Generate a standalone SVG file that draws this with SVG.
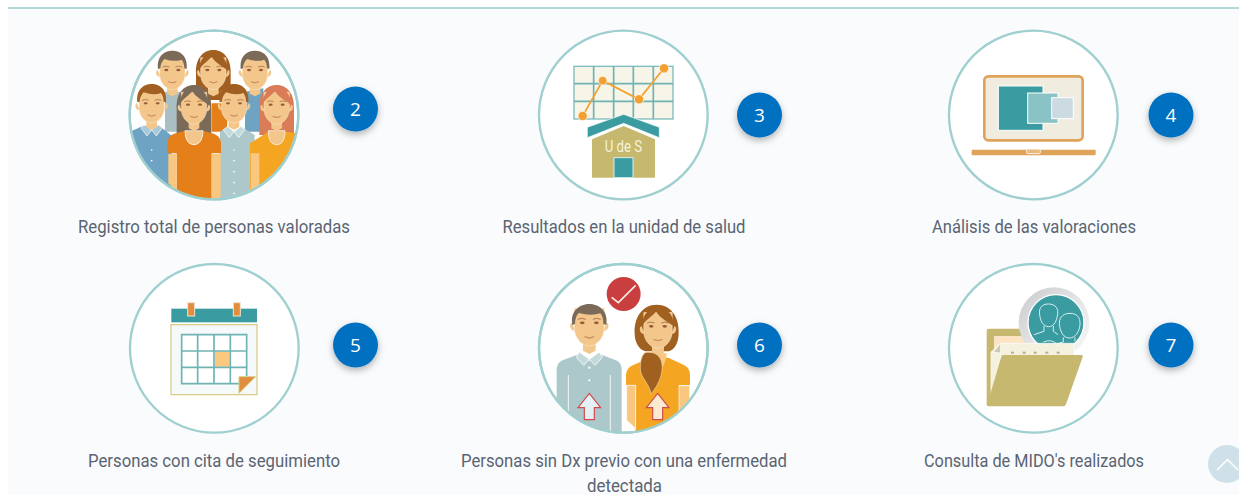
<svg xmlns="http://www.w3.org/2000/svg" xmlns:xlink="http://www.w3.org/1999/xlink" width="1239" height="495" viewBox="0 0 1239 495">
<style>
.ring{fill:#fff;stroke:#9fcfcf;stroke-width:7}
.lbl{font-family:"Roboto","Liberation Sans",sans-serif;font-size:18px;fill:#5b6472;text-anchor:middle}
.num{font-family:"Open Sans","Noto Sans",sans-serif;font-size:19px;fill:#fff;text-anchor:middle}
.badge{fill:#0070c0;filter:url(#sh)}
.skin{fill:#f3c68c}
.eye{fill:#9a5b38}
.grid{fill:none;stroke:#6fb3b3;stroke-width:5}
</style>
<defs>
<filter id="sh" x="-40%" y="-40%" width="180%" height="180%"><feDropShadow dx="0" dy="3" stdDeviation="3.5" flood-color="#000" flood-opacity=".3"/></filter>
<clipPath id="cp1"><circle cx="312" cy="285" r="251"/></clipPath>
<clipPath id="cp6"><circle cx="280" cy="265" r="252"/></clipPath>
<clipPath id="cpm"><circle cx="348" cy="185" r="82"/></clipPath>
<linearGradient id="lens" x1="0" y1="0" x2="1" y2="1"><stop offset="0" stop-color="#c9cacd"/><stop offset=".6" stop-color="#e8e9ea"/><stop offset="1" stop-color="#f8f8f8"/></linearGradient>
<g id="face">
<path class="skin" d="M-44-8c-7 0-7 18 4 20l4 0zM44-8c7 0 7 18-4 20l-4 0z"/>
<path class="skin" d="M-16 35h32v28l-16 8-16-8z"/>
<path class="skin" stroke="#fdecd4" stroke-width="1.500" d="M-38-45h76v50c0 28-22 46-38 46s-38-18-38-46z"/>
<ellipse class="eye" cx="-18" cy="-8" rx="6" ry="3.500"/><ellipse class="eye" cx="18" cy="-8" rx="6" ry="3.500"/>
<path d="M-29-17q10-5 20 0M9-17q10-5 20 0" fill="none" stroke="#a9754a" stroke-width="2.500"/>
<path d="M-12 27q12 6 24 0q-12 8-24 0z" fill="#c98a5a" stroke="#c98a5a" stroke-width="2"/>
</g>
<path id="mhair" d="M-43-5c-4-40 20-55 43-55s47 15 43 55l-7-2c0-12-3-20-8-26q-22 8-52-2c-7 7-12 18-12 28z"/>
<path id="whair" d="M0-70c34 0 54 30 52 70v80h-104v-80c-2-40 18-70 52-70z"/>
<path id="fringe" d="M-42-8C-36-25-15-35-5-48C5-30 25-22 42-8C44-35 25-60 0-60S-44-35-42-8z"/>
</defs>
<rect width="1239" height="495" fill="#fff"/>
<rect x="8" y="8" width="1231" height="487" fill="#f9fbfd"/>
<rect x="8" y="7" width="1231" height="2" fill="#b5d9d9"/>

<g id="connectors"/>

<g id="node-2">
<g transform="translate(110 20) scale(.3333)">
<circle class="ring" cx="312" cy="285" r="253"/>
<g clip-path="url(#cp1)">
<use href="#whair" x="310" y="160" fill="#a15f22"/>
<path d="M305 250h50l-5 85h-45z" fill="#e57f1a"/>
<path d="M165 215h55v120h-55z" fill="#a9bfc3"/>
<path d="M405 215l55-10v130h-55z" fill="#6fa3c4"/>
<use href="#face" x="187" y="158"/><use href="#mhair" x="187" y="152" fill="#7c6a58"/>
<use href="#face" x="435" y="158"/><use href="#mhair" x="435" y="152" fill="#7c6a58"/>
<use href="#face" x="310" y="158"/><use href="#fringe" x="310" y="158" fill="#a15f22"/>
<use href="#whair" x="500" y="265" fill="#d97c58"/>
<use href="#whair" x="252" y="265" fill="#7c6a58"/>
<path d="M60 335l45-20 20 15 20-15 40 32v200H60z" fill="#6fa3c4"/>
<path d="M105 315l20 15-14 18-18-24zM145 315l-20 15 14 18 18-24z" fill="#a9c8d8" stroke="#fff" stroke-width="2"/>
<use href="#face" x="125" y="258"/><use href="#mhair" x="125" y="252" fill="#a15f22"/>
<path d="M330 335l22-15 20 15 22-15 40 25v200H330z" fill="#adc8ca"/>
<path d="M352 320l20 15-14 18-18-24zM392 320l-20 15 14 18 18-24z" fill="#c3dadb" stroke="#fff" stroke-width="2"/>
<path d="M420 370l55-35h55l30 5v170H420z" fill="#f4a522"/>
<path d="M475 332c0 30 10 42 25 42s25-12 25-42z" fill="#f3c68c" stroke="#fff" stroke-width="2"/>
<path d="M422 400h26v105l-26 20z" fill="#f9c77f"/>
<use href="#face" x="500" y="262"/><use href="#fringe" x="500" y="262" fill="#d97c58"/>
<use href="#face" x="372" y="258"/><use href="#mhair" x="372" y="252" fill="#a15f22"/>
<path d="M172 370q2-25 25-30l28-8c0 28 12 42 27 42s27-14 27-42l28 8q24 6 26 30v30h-28v135H200V400h-28z" fill="#e57f1a"/>
<path d="M225 332c0 28 12 42 27 42s27-14 27-42z" fill="#f3c68c" stroke="#fff" stroke-width="2"/>
<path d="M175 402h25v108l-25-20zM305 402h27v130l-12 8h-15z" fill="#f9c77f"/>
<use href="#face" x="252" y="262"/><use href="#fringe" x="252" y="262" fill="#7c6a58"/>
<g fill="#fff"><circle cx="125" cy="390" r="2.500"/><circle cx="125" cy="422" r="2.500"/><circle cx="372" cy="390" r="2.500"/><circle cx="372" cy="422" r="2.500"/><circle cx="372" cy="455" r="2.500"/><circle cx="372" cy="488" r="2.500"/><circle cx="372" cy="520" r="2.500"/></g>
</g>
<circle cx="312" cy="285" r="253" fill="none" stroke="#9fcfcf" stroke-width="7"/>
</g>
<circle class="badge" cx="355.500" cy="109" r="22.500"/>
<text class="num" x="355.500" y="116">2</text>
<text class="lbl" x="214" y="233" textLength="272" lengthAdjust="spacingAndGlyphs">Registro total de personas valoradas</text>
</g>

<g id="node-3">
<g transform="translate(530 20) scale(.3333)">
<circle class="ring" cx="280" cy="285" r="253"/>
<rect x="132" y="139" width="297" height="158" fill="#f6f5e8" stroke="#7fbcbc" stroke-width="4"/>
<path class="grid" d="M191 139v158M251 139v158M310 139v158M370 139v158M132 191h297M132 244h297"/>
<path d="M158 288L218 182L327 238L402 145" fill="none" stroke="#f4a030" stroke-width="5"/>
<g fill="#f4a030" stroke="#fff" stroke-width="2"><circle cx="158" cy="288" r="14"/><circle cx="218" cy="182" r="13"/><circle cx="327" cy="238" r="14"/><circle cx="402" cy="145" r="14"/></g>
<path d="M172 322L281 283L388 322V353L281 310L172 353z" fill="#3a9ba0" stroke="#fff" stroke-width="2"/>
<path d="M186 358L281 318L375 358V473H186z" fill="#c6b86e"/>
<text x="280" y="397" font-family="Roboto,'Liberation Sans',sans-serif" font-size="52" fill="#f6f3dc" text-anchor="middle" textLength="112" lengthAdjust="spacingAndGlyphs">U de S</text>
<rect x="252" y="413" width="57" height="60" fill="#3a9ba0" stroke="#dcecec" stroke-width="3"/>
</g>
<circle class="badge" cx="759.500" cy="115" r="22.500"/>
<text class="num" x="759.500" y="122">3</text>
<text class="lbl" x="624" y="233" textLength="243" lengthAdjust="spacingAndGlyphs">Resultados en la unidad de salud</text>
</g>

<g id="node-4">
<g transform="translate(940 20) scale(.3333)">
<circle class="ring" cx="280" cy="285" r="253"/>
<rect x="133" y="169" width="295" height="192" rx="12" fill="#f0ece0" stroke="#dfa35a" stroke-width="8"/>
<rect x="175" y="198" width="134" height="133" fill="#3a9ba0" stroke="#fff" stroke-width="3"/>
<rect x="263" y="219" width="91" height="91" fill="#8ac3c6" stroke="#fff" stroke-width="3"/>
<rect x="335" y="233" width="65" height="63" fill="#ccdbe2" stroke="#fff" stroke-width="3"/>
<rect x="95" y="389" width="372" height="17" rx="3" fill="#dfa35a"/>
<path d="M260 389v8q0 4 4 4h33q4 0 4-4v-8" fill="#e9b978" stroke="#fff" stroke-width="2.500"/>
</g>
<circle class="badge" cx="1171" cy="115" r="22.500"/>
<text class="num" x="1171" y="122">4</text>
<text class="lbl" x="1034" y="233" textLength="204" lengthAdjust="spacingAndGlyphs">Análisis de las valoraciones</text>
</g>

<g id="node-5">
<g transform="translate(120 260) scale(.3333)">
<circle class="ring" cx="283" cy="265" r="253"/>
<rect x="154" y="146" width="257" height="41" fill="#3a9ba0"/>
<rect x="203" y="128" width="21" height="40" fill="#e08e3e" stroke="#f3e3d0" stroke-width="3"/>
<rect x="340" y="128" width="21" height="40" fill="#e08e3e" stroke="#f3e3d0" stroke-width="3"/>
<rect x="153" y="194" width="258" height="210" fill="#f5f9f9" stroke="#d9cf8a" stroke-width="4"/>
<rect x="185" y="224" width="195" height="147" fill="#fff"/>
<rect x="285" y="274" width="44" height="46" fill="#fbc87f"/>
<path class="grid" d="M185 224h195v147H185zM233 224v147M282 224v147M331 224v147M185 273h195M185 322h195"/>
<path d="M357 402V350h52z" fill="#f5f9f9"/>
<path d="M357 350h50l-50 50z" fill="#e08e3e" stroke="#d9cf8a" stroke-width="3"/>
</g>
<circle class="badge" cx="355.500" cy="345" r="22.500"/>
<text class="num" x="355.500" y="352">5</text>
<text class="lbl" x="214" y="467" textLength="252" lengthAdjust="spacingAndGlyphs">Personas con cita de seguimiento</text>
</g>

<g id="node-6">
<g transform="translate(530 260) scale(.3333)">
<circle class="ring" cx="280" cy="265" r="253"/>
<g clip-path="url(#cp6)">
<circle cx="281" cy="102" r="51" fill="#c93f3f"/>
<path d="M245 112l20 16 52-52" fill="none" stroke="#f6e9e3" stroke-width="5"/>
<path d="M80 325q2-20 22-26l46-17 30 20 30-20 46 17q20 6 21 26v195H80z" fill="#adc8ca"/>
<path d="M115 345v170M241 345v170" stroke="#fff" stroke-width="2.500"/>
<path d="M178 298l-30-22-9 16 22 24zM178 298l30-22 9 16-22 24z" fill="#c3dadb" stroke="#fff" stroke-width="2.500"/>
<circle cx="178" cy="323" r="3.500" fill="#fff"/><circle cx="178" cy="361" r="3.500" fill="#fff"/>
<g transform="translate(178 198) scale(1.180)"><use href="#face"/></g>
<path d="M127 195c-8-45 25-63 51-63s59 18 51 63l-9-3c0-15-3-25-9-32q-28 9-65-1c-8 8-11 20-11 33z" fill="#7c6a58"/>
<path d="M178 400l34 43h-19v36h-30v-36h-19z" fill="#e4f0f4" stroke="#cf4b4b" stroke-width="3.500"/>
<path d="M380 134c45 0 68 40 66 85c0 30-12 50-30 55h-70c-20-6-32-28-32-55c-2-45 22-85 66-85z" fill="#a0601f"/>
<path d="M288 345q2-22 22-30l50-22h55l42 20q22 8 23 30v32h-33v100l-10 30-120 15V375h-29z" fill="#f4a522"/>
<path d="M290 376h27v130l-27-25zM447 377h32v70l-32 22z" fill="#f9c77f" stroke="#fff" stroke-width="2"/>
<path d="M355 280h55c0 20-10 45-30 60-15-12-25-35-25-60z" fill="#f9c77f"/>
<g transform="translate(384 208) scale(1.120)"><use href="#face"/><use href="#fringe" fill="#a0601f"/></g>
<path d="M345 278c35-6 58 15 50 60c-4 25-20 50-32 64c-4-28-26-45-31-67c-3-18 0-48 13-57z" fill="#a0601f" stroke="#f9d9a8" stroke-width="2"/>
<path d="M383 400l34 43h-19v36h-30v-36h-19z" fill="#fbe9d0" stroke="#cf4b4b" stroke-width="3.500"/>
</g>
<circle cx="280" cy="265" r="253" fill="none" stroke="#9fcfcf" stroke-width="7"/>
</g>
<circle class="badge" cx="759.500" cy="345" r="22.500"/>
<text class="num" x="759.500" y="352">6</text>
<text class="lbl" x="624" y="467" textLength="326" lengthAdjust="spacingAndGlyphs">Personas sin Dx previo con una enfermedad</text>
<text class="lbl" x="624.500" y="492" textLength="75" lengthAdjust="spacingAndGlyphs">detectada</text>
</g>

<g id="node-7">
<g transform="translate(940 260) scale(.3333)">
<circle class="ring" cx="280" cy="265" r="253"/>
<path d="M140 212q0-6 6-6h110v120h-90L155 435h-15z" fill="#c6b86e"/>
<path d="M162 228h130v60H162z" fill="#fbe3c4"/>
<circle cx="342" cy="188" r="106" fill="url(#lens)"/>
<circle cx="348" cy="188" r="84" fill="#3a9ba0" stroke="#fff" stroke-width="4"/>
<g clip-path="url(#cpm)" fill="none" stroke="#d8eeee" stroke-width="3">
<path d="M300 170c-6-25 5-38 25-38c22 0 34 14 26 40c-3 16-12 28-25 28c-14 0-24-14-26-30z"/>
<path d="M312 198v16l-30 10M340 198v16l14 10"/>
<path d="M358 190c0-22 16-30 32-30c18 0 32 10 30 34c-2 22-14 40-32 40c-16 0-28-16-30-44z"/>
<path d="M370 232v14l-28 8M405 232v14l24 8M310 246q25-10 40 6"/>
</g>
<path d="M155 275l25-25h222v60H155z" fill="#f5f1df" stroke="#fff" stroke-width="2"/>
<path d="M160 278l20-24v24z" fill="#c9c9b8"/>
<path d="M153 275v150l30-40V280z" fill="#f5f1df" stroke="#fff" stroke-width="2"/>
<g fill="#b9ad92"><rect x="213" y="275" width="9" height="6"/><rect x="248" y="275" width="9" height="6"/><rect x="281" y="275" width="9" height="6"/><rect x="316" y="275" width="9" height="6"/><rect x="350" y="275" width="9" height="6"/></g>
<path d="M190 285H424q6 0 4 6l-50 142q-2 6-8 6H146q-7 0-4-7l42-142q1-5 6-5z" fill="#c6b86e"/>
</g>
<circle class="badge" cx="1171" cy="345" r="22.500"/>
<text class="num" x="1171" y="352">7</text>
<text class="lbl" x="1034" y="467" textLength="220" lengthAdjust="spacingAndGlyphs">Consulta de MIDO's realizados</text>
</g>

<g id="scroll-top">
<circle cx="1227" cy="464" r="19" fill="#cfe0e9"/>
<path d="M1217 470l10.500-10.500 10.500 10.500" fill="none" stroke="#fff" stroke-width="1.500"/>
</g>
</svg>
